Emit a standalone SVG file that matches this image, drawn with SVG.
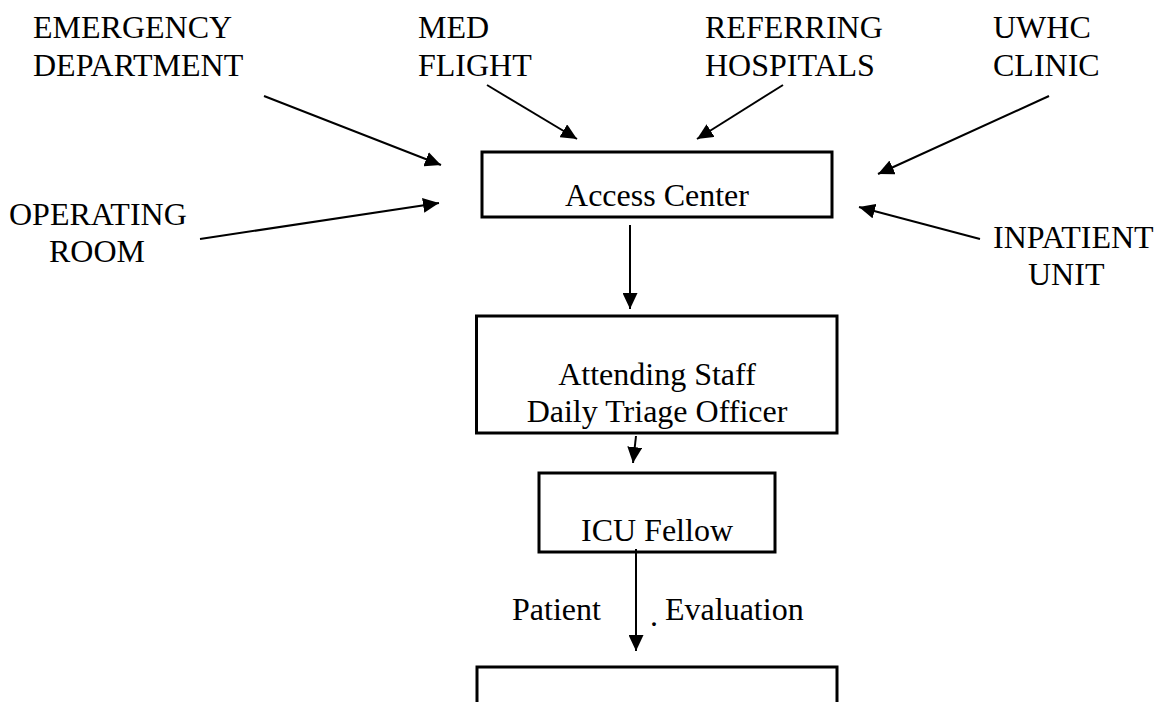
<svg xmlns="http://www.w3.org/2000/svg" width="1160" height="702" viewBox="0 0 1160 702">
<style>
  text { font-family: "Liberation Serif", "Times New Roman", serif; font-size: 32px; fill: #000; }
  .mid { text-anchor: middle; }
  .box { fill: #fff; stroke: #000; stroke-width: 3; }
  .conn line { stroke: #000; stroke-width: 2; marker-end: url(#ah); }
</style>
<defs>
  <marker id="ah" markerUnits="userSpaceOnUse" viewBox="0 0 16 15" refX="16" refY="7.5" markerWidth="16" markerHeight="15" orient="auto">
    <path d="M0,0 L16,7.5 L0,15 Z" fill="#000"/>
  </marker>
</defs>
<rect width="1160" height="702" fill="#fff"/>

<g id="emergency-department">
  <text x="33" y="38">EMERGENCY</text>
  <text x="33" y="76">DEPARTMENT</text>
</g>
<g id="med-flight">
  <text x="418" y="38">MED</text>
  <text x="418" y="76">FLIGHT</text>
</g>
<g id="referring-hospitals">
  <text x="705" y="38">REFERRING</text>
  <text x="705" y="76">HOSPITALS</text>
</g>
<g id="uwhc-clinic">
  <text x="993" y="38">UWHC</text>
  <text x="993" y="76">CLINIC</text>
</g>
<g id="operating-room">
  <text x="9" y="225">OPERATING</text>
  <text x="49" y="262">ROOM</text>
</g>
<g id="inpatient-unit">
  <text x="993" y="248">INPATIENT</text>
  <text x="1028" y="285">UNIT</text>
</g>

<g id="access-center">
  <rect class="box" x="482" y="152" width="350" height="65"/>
  <text class="mid" x="657" y="206">Access Center</text>
</g>
<g id="attending-staff">
  <rect class="box" x="476.5" y="316" width="360.5" height="117"/>
  <text class="mid" x="657" y="385">Attending Staff</text>
  <text class="mid" x="657" y="422">Daily Triage Officer</text>
</g>
<g id="icu-fellow">
  <rect class="box" x="539" y="473" width="236" height="79"/>
  <text class="mid" x="657" y="541">ICU Fellow</text>
</g>
<g id="bottom-box">
  <rect class="box" x="477" y="667" width="360" height="60"/>
</g>

<g id="connectors" class="conn">
  <line x1="264" y1="96" x2="441" y2="165"/>
  <line x1="200" y1="239" x2="439" y2="203"/>
  <line x1="487" y1="85" x2="577" y2="139"/>
  <line x1="783" y1="85" x2="697" y2="139"/>
  <line x1="1049" y1="96" x2="878" y2="174"/>
  <line x1="980" y1="239" x2="859" y2="207"/>
  <line x1="630" y1="225" x2="630" y2="309"/>
  <line x1="636" y1="436" x2="633" y2="463"/>
  <line x1="636" y1="549" x2="636" y2="651"/>
</g>

<g id="edge-label">
  <text x="512" y="620">Patient</text>
  <text x="650" y="626">.</text>
  <text x="665" y="620">Evaluation</text>
</g>
</svg>
